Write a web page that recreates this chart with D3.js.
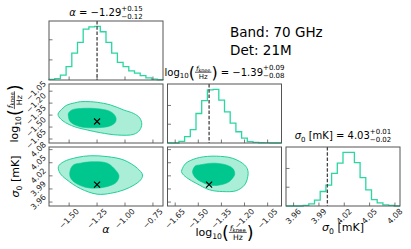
<!DOCTYPE html>
<html>
<head>
<meta charset="utf-8">
<script src="https://cdn.jsdelivr.net/npm/d3@7"></script>
<style>
  html, body { margin: 0; padding: 0; background: #fff; }
  svg { display: block; font-family: "DejaVu Sans", sans-serif; }
  svg text { white-space: pre; }
</style>
</head>
<body>
<div id="chart"></div>
<script>
// axis ranges, ticks and truth values
const alphaRange = [-1.68, -0.66];
const fkneeRange = [-1.70, -0.96];
const sigmaRange = [3.951, 4.086];
const alphaTicks = [-1.5, -1.25, -1.0, -0.75];
const fkneeTicks = [-1.65, -1.5, -1.35, -1.2, -1.05];
const sigmaTicks = [3.96, 3.99, 4.02, 4.05, 4.08];
const truths = [-1.25, -1.43, 4.0];

// 1D marginals (20 bins, relative to peak = 100)
const alphaHist = [1, 2.5, 9, 25, 50, 70, 95, 99, 100, 90, 70, 50, 33, 25, 17, 13, 8, 4, 1.5, 0.5];
const fkneeHist = [0, 0, 3, 12, 25, 55, 79, 99, 100, 80, 58, 37, 21, 9, 2.5, 1, 0.5, 0.3, 0, 0];
const sigmaHist = [0, 0, 0, 1, 4, 11, 27, 39, 61, 80, 100, 100, 81, 53, 30, 12, 6, 2, 1, 0];
const histTicks = [[37.5, 75], [35, 70], [35, 70]];

// 2D contours (data units), outer = 2 sigma, inner = 1 sigma
const alphaFkneeOuter = [[-1.599,-1.336],[-1.554,-1.261],[-1.518,-1.223],[-1.454,-1.198],[-1.400,-1.182],[-1.310,-1.182],[-1.247,-1.190],[-1.129,-1.223],[-1.012,-1.286],[-0.922,-1.330],[-0.868,-1.386],[-0.850,-1.462],[-0.868,-1.537],[-0.922,-1.591],[-1.066,-1.600],[-1.220,-1.571],[-1.337,-1.537],[-1.445,-1.499],[-1.509,-1.462],[-1.554,-1.424],[-1.590,-1.374]];
const alphaFkneeInner = [[-1.506,-1.328],[-1.475,-1.286],[-1.370,-1.265],[-1.220,-1.274],[-1.129,-1.307],[-1.084,-1.370],[-1.084,-1.433],[-1.129,-1.483],[-1.249,-1.508],[-1.400,-1.496],[-1.490,-1.433],[-1.506,-1.370]];
const alphaSigmaOuter = [[-1.596,4.041],[-1.551,4.052],[-1.430,4.062],[-1.310,4.066],[-1.159,4.064],[-1.009,4.056],[-0.888,4.037],[-0.843,4.022],[-0.859,4.011],[-0.919,3.999],[-1.009,3.988],[-1.129,3.980],[-1.249,3.978],[-1.400,3.991],[-1.520,4.011],[-1.581,4.026]];
const alphaSigmaInner = [[-1.490,4.033],[-1.461,4.045],[-1.400,4.049],[-1.310,4.052],[-1.159,4.049],[-1.084,4.033],[-1.054,4.020],[-1.075,4.006],[-1.129,3.998],[-1.247,3.992],[-1.355,3.994],[-1.445,4.004],[-1.490,4.017]];
const fkneeSigmaOuter = [[-1.609,4.030],[-1.590,4.045],[-1.568,4.052],[-1.492,4.062],[-1.384,4.065],[-1.276,4.060],[-1.200,4.045],[-1.179,4.033],[-1.179,4.018],[-1.200,3.999],[-1.254,3.986],[-1.341,3.984],[-1.427,3.988],[-1.514,4.003],[-1.568,4.014],[-1.601,4.024]];
const fkneeSigmaInner = [[-1.536,4.033],[-1.518,4.043],[-1.492,4.045],[-1.406,4.049],[-1.319,4.045],[-1.276,4.037],[-1.265,4.029],[-1.265,4.022],[-1.298,4.007],[-1.362,3.999],[-1.427,3.999],[-1.514,4.014],[-1.536,4.026]];

const W = 411, H = 249;
const colX = [49, 167.5, 286], rowY = [21, 84, 147], pw = 114, ph = 59;
const lineColor = "#2ad6a1", innerFill = "#00c78e", outerFill = "#abeed8", outerLine = "#22cf99";
const spine = "#555", fmt = d3.format(".2f");

const params = [
  { range: alphaRange, ticks: alphaTicks, hist: alphaHist },
  { range: fkneeRange, ticks: fkneeTicks, hist: fkneeHist },
  { range: sigmaRange, ticks: sigmaTicks, hist: sigmaHist },
];
const xs = params.map((p, i) => d3.scaleLinear().domain(p.range).range([colX[i], colX[i] + pw]));
const ys = params.map((p, i) => d3.scaleLinear().domain(p.range).range([rowY[i] + ph, rowY[i]]));

const svg = d3.select("#chart").append("svg").attr("width", W).attr("height", H);

// small mathtext-like composer
function put(g, x, y, s, fs, italic) {
  const t = g.append("text").attr("x", x).attr("y", y).style("font-size", fs + "px").text(s);
  if (italic) t.style("font-style", "italic");
  return t.node().getComputedTextLength();
}
function compose(g, parts, fs) {
  let x = 0;
  parts.forEach(p => {
    if (p.frac) {
      const s = fs * 0.7;
      const gn = g.append("g"), gd = g.append("g");
      const wn = compose(gn, p.num, s), wd = compose(gd, p.den, s);
      const w = Math.max(wn, wd) + 2;
      gn.attr("transform", `translate(${x + (w - wn) / 2},${-fs * 0.5})`);
      gd.attr("transform", `translate(${x + (w - wd) / 2},${fs * 0.32})`);
      g.append("line").attr("x1", x).attr("x2", x + w)
        .attr("y1", -fs * 0.33).attr("y2", -fs * 0.33)
        .attr("stroke", "#000").attr("stroke-width", 0.7);
      x += w;
    } else if (p.ss) {
      const s = fs * 0.7;
      const w1 = put(g, x, -fs * 0.55, p.ss[0], s);
      const w2 = put(g, x, fs * 0.28, p.ss[1], s);
      x += Math.max(w1, w2);
    } else {
      x += put(g, x, (p.dy || 0) * fs, p.t, fs * (p.k || 1), p.it);
    }
  });
  return x;
}
function mathText(parts, fs, x, y, rot) {
  const g = svg.append("g");
  const w = compose(g, parts, fs);
  g.attr("transform", rot ? `translate(${x},${y}) rotate(-90) translate(${-w / 2},0)`
                          : `translate(${x - w / 2},${y})`);
}

const logParts = [
  { t: "log" }, { t: "10", k: 0.7, dy: 0.25 },
  { t: "(", k: 1.6, dy: 0.24 },
  { frac: true, num: [{ t: "f", it: true }, { t: "knee", k: 0.7, dy: 0.22 }], den: [{ t: "Hz" }] },
  { t: ")", k: 1.6, dy: 0.24 },
];
const sigmaParts = [{ t: "σ", it: true }, { t: "0", k: 0.7, dy: 0.25 }, { t: " [mK]" }];

// ticks and tick labels
function ticksBottom(x, bottom, ticks, labels) {
  ticks.forEach(t => {
    svg.append("line").attr("x1", x(t)).attr("x2", x(t)).attr("y1", bottom).attr("y2", bottom - 3.5)
      .attr("stroke", spine).attr("stroke-width", 0.8);
    if (labels) {
      const tx = svg.append("text").attr("text-anchor", "middle").attr("dominant-baseline", "central")
        .style("font-size", "8px").attr("fill", "#222").text(fmt(t));
      const e = (tx.node().getComputedTextLength() + 6) * 0.7071;
      tx.attr("transform", `translate(${x(t)},${bottom + 2 + e / 2}) rotate(-45)`);
    }
  });
}
function ticksLeft(y, left, ticks, labels) {
  ticks.forEach(t => {
    svg.append("line").attr("x1", left).attr("x2", left + 3.5).attr("y1", y(t)).attr("y2", y(t))
      .attr("stroke", spine).attr("stroke-width", 0.8);
    if (labels) {
      const tx = svg.append("text").attr("text-anchor", "middle").attr("dominant-baseline", "central")
        .style("font-size", "8px").attr("fill", "#222").text(fmt(t));
      const e = (tx.node().getComputedTextLength() + 6) * 0.7071;
      tx.attr("transform", `translate(${left - 2 - e / 2},${y(t)}) rotate(-45)`);
    }
  });
}
function frame(i, j) {
  svg.append("rect").attr("x", colX[j]).attr("y", rowY[i]).attr("width", pw).attr("height", ph)
    .attr("fill", "none").attr("stroke", spine).attr("stroke-width", 1);
}

// diagonal histograms
params.forEach((p, i) => {
  const x = xs[i];
  const bottom = rowY[i] + ph;
  const y = d3.scaleLinear().domain([0, 110]).range([bottom, rowY[i]]);
  const n = p.hist.length;
  const edges = d3.range(n + 1).map(k => p.range[0] + k * (p.range[1] - p.range[0]) / n);
  const pts = [[edges[0], 0]].concat(p.hist.map((c, k) => [edges[k], c]), [[edges[n], p.hist[n - 1]], [edges[n], 0]]);
  svg.append("path")
    .attr("d", d3.line().curve(d3.curveStepAfter).x(d => x(d[0])).y(d => y(d[1]))(pts))
    .attr("fill", "none").attr("stroke", lineColor).attr("stroke-width", 1.3);
  svg.append("line").attr("x1", x(truths[i])).attr("x2", x(truths[i]))
    .attr("y1", rowY[i]).attr("y2", bottom)
    .attr("stroke", "#444").attr("stroke-width", 1.3).attr("stroke-dasharray", "3.5,1.8");
  frame(i, i);
  ticksBottom(x, bottom, p.ticks, i === 2);
  ticksLeft(y, colX[i], histTicks[i], false);
});

// 2D panels
const pairs = [
  { i: 1, j: 0, outer: alphaFkneeOuter, inner: alphaFkneeInner },
  { i: 2, j: 0, outer: alphaSigmaOuter, inner: alphaSigmaInner },
  { i: 2, j: 1, outer: fkneeSigmaOuter, inner: fkneeSigmaInner },
];
pairs.forEach(d => {
  const x = xs[d.j], y = ys[d.i];
  const line = d3.line().curve(d3.curveCatmullRomClosed.alpha(0.5)).x(p => x(p[0])).y(p => y(p[1]));
  svg.append("path").attr("d", line(d.outer)).attr("fill", outerFill)
    .attr("stroke", outerLine).attr("stroke-width", 1);
  svg.append("path").attr("d", line(d.inner)).attr("fill", innerFill)
    .attr("stroke", innerFill).attr("stroke-width", 0.6);
  const mx = x(truths[d.j]), my = y(truths[d.i]);
  svg.append("path").attr("d", `M${mx - 3},${my - 3}L${mx + 3},${my + 3}M${mx - 3},${my + 3}L${mx + 3},${my - 3}`)
    .attr("stroke", "#000").attr("stroke-width", 1.2);
  frame(d.i, d.j);
  ticksBottom(x, rowY[d.i] + ph, params[d.j].ticks, d.i === 2);
  ticksLeft(y, colX[d.j], params[d.i].ticks, d.j === 0);
});

// axis labels
mathText([{ t: "α", it: true }], 11, colX[0] + pw / 2, 233, false);
mathText(logParts, 11, colX[1] + pw / 2, 236, false);
mathText(sigmaParts, 11, colX[2] + pw / 2, 231, false);
mathText(logParts, 11, 18, rowY[1] + ph / 2, true);
mathText(sigmaParts, 11, 19, rowY[2] + ph / 2, true);

// titles
mathText([{ t: "α", it: true }, { t: " = −1.29" }, { ss: ["+0.15", "−0.12"] }], 10, colX[0] + pw / 2, 16, false);
mathText(logParts.concat([{ t: " = −1.39" }, { ss: ["+0.09", "−0.08"] }]), 10, colX[1] + pw / 2, 75.5, false);
mathText(sigmaParts.concat([{ t: " = 4.03" }, { ss: ["+0.01", "−0.02"] }]), 10, colX[2] + pw / 2, 139, false);

// annotation
svg.append("text").attr("x", 230).attr("y", 37).style("font-size", "13.5px").text("Band: 70 GHz");
svg.append("text").attr("x", 230).attr("y", 55).style("font-size", "13.5px").text("Det: 21M");
</script>
</body>
</html>
